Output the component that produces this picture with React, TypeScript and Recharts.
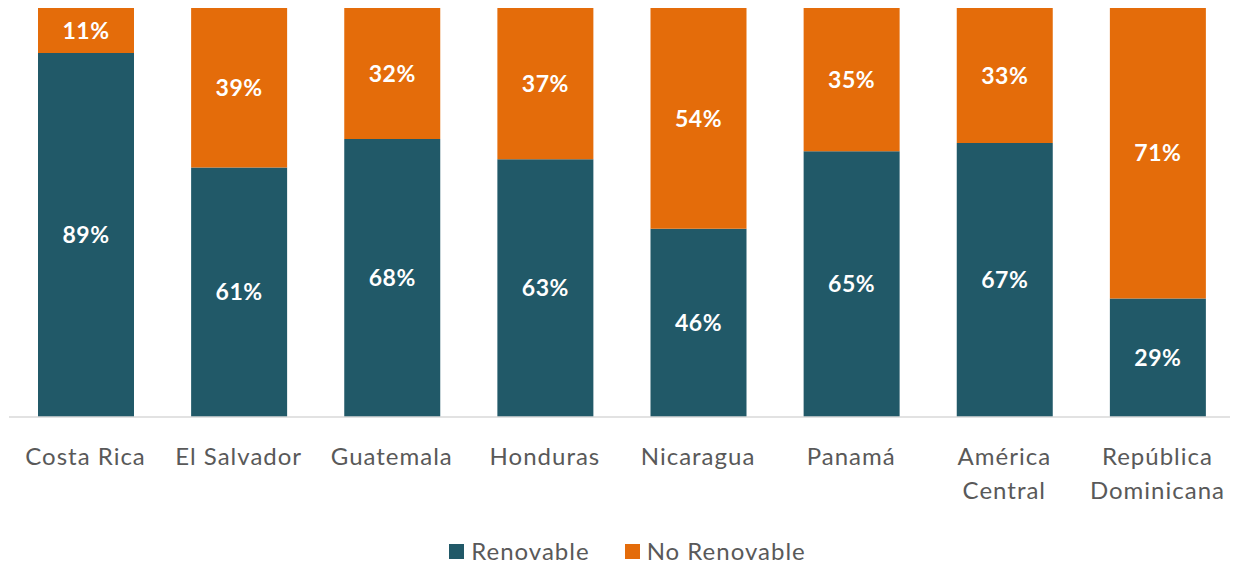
import React from 'react';
import { BarChart, Bar, XAxis, YAxis, LabelList } from 'recharts';

const categories = ['Costa Rica', 'El Salvador', 'Guatemala', 'Honduras', 'Nicaragua', 'Panamá', 'América Central', 'República Dominicana'];
const renovable = [89, 61, 68, 63, 46, 65, 67, 29];
const noRenovable = [11, 39, 32, 37, 54, 35, 33, 71];
const seriesNames = ['Renovable', 'No Renovable'];
const seriesColors = ['#215968', '#E46C0A'];

const tickLines: Record<string, string[]> = {
  'América Central': ['América', 'Central'],
  'República Dominicana': ['República', 'Dominicana'],
};

const data = categories.map((c, i) => ({ name: c, renovable: renovable[i], noRenovable: noRenovable[i] }));

const FONT = 'Lato, "Open Sans", sans-serif';

const Tick = (props: any) => {
  const { x, y, payload } = props;
  const lines = tickLines[payload.value] || [payload.value];
  return (
    <text x={x} y={y} textAnchor="middle" fill="#595959" fontSize={24} fontFamily={FONT} letterSpacing={1}>
      {lines.map((l, i) => (
        <tspan key={i} x={x} dy={i === 0 ? 40 : 34}>{l}</tspan>
      ))}
    </text>
  );
};

export default function App() {
  return (
    <div style={{ marginTop: -8, marginLeft: -8, position: 'relative', width: 1238, height: 566 }}>
      <BarChart width={1238} height={566} data={data} margin={{ top: 8, right: 4, left: 9, bottom: 0 }}>
        <XAxis dataKey="name" tick={<Tick />} tickLine={false} axisLine={{ stroke: '#D9D9D9', strokeWidth: 1.5 }} interval={0} height={149} />
        <YAxis hide domain={[0, 100]} />
        <Bar dataKey="renovable" stackId="a" fill={seriesColors[0]} barSize={96} isAnimationActive={false}>
          <LabelList dataKey="renovable" position="center" formatter={(v: any) => `${v}%`} fill="#FFFFFF" fontSize={23} fontWeight={700} fontFamily={FONT} letterSpacing={0.5} />
        </Bar>
        <Bar dataKey="noRenovable" stackId="a" fill={seriesColors[1]} barSize={96} isAnimationActive={false}>
          <LabelList dataKey="noRenovable" position="center" formatter={(v: any) => `${v}%`} fill="#FFFFFF" fontSize={23} fontWeight={700} fontFamily={FONT} letterSpacing={0.5} />
        </Bar>
      </BarChart>
      <div style={{ position: 'absolute', left: 0, top: 536, width: 1238, height: 30, display: 'flex', justifyContent: 'center', alignItems: 'center', paddingLeft: 17, boxSizing: 'border-box', fontFamily: FONT, fontSize: 24, letterSpacing: 1, color: '#595959', lineHeight: '30px' }}>
        {seriesNames.map((n, i) => (
          <React.Fragment key={n}>
            <span style={{ display: 'inline-block', width: 15, height: 15, background: seriesColors[i], marginRight: 7 }} />
            <span style={{ marginRight: i === 0 ? 35 : 0 }}>{n}</span>
          </React.Fragment>
        ))}
      </div>
    </div>
  );
}
